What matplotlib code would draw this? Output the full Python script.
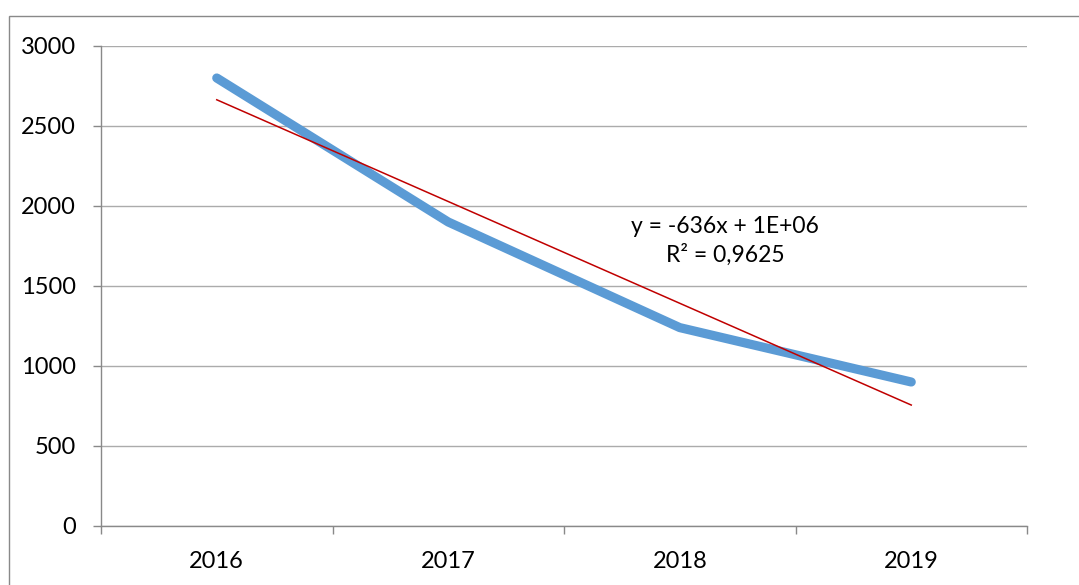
import numpy as np
import matplotlib
matplotlib.use("Agg")
import matplotlib.pyplot as plt
from matplotlib.patches import Rectangle

categories = ["2016", "2017", "2018", "2019"]
values = [2800, 1900, 1240, 900]
y_ticks = [0, 500, 1000, 1500, 2000, 2500, 3000]
trend_label = "y = -636x + 1E+06\nR² = 0,9625"

plt.rcParams['font.family'] = ['Lato', 'DejaVu Sans']

W, H = 1079, 585
fig = plt.figure(figsize=(W / 100, H / 100), dpi=100)
ax = fig.add_axes([101 / W, (H - 526) / H, (1027 - 101) / W, (526 - 46) / H])

# chart border (only left and top edges fall inside the image)
fig.patches.append(Rectangle((9 / W, -0.1), 2, (H - 16) / H + 0.1, transform=fig.transFigure,
                             fill=False, edgecolor='#898989', linewidth=1.0, clip_on=False))

x = np.arange(len(categories))
ax.plot(x, values, color='#5B9BD5', linewidth=6.6, solid_capstyle='round',
        solid_joinstyle='round', zorder=3)

# linear trendline (Excel-style, x = 1..n)
coef = np.polyfit(x + 1, values, 1)
tx = np.array([x[0], x[-1]])
ax.plot(tx, np.polyval(coef, tx + 1), color='#C00000', linewidth=1.1, zorder=4)

ax.text(2.195, 1940, trend_label, ha='center', va='top', fontsize=16.5,
        linespacing=1.4, color='black')

ax.set_xlim(-0.5, len(categories) - 0.5)
ax.set_ylim(0, 3000)
ax.set_yticks(y_ticks)
ax.set_yticklabels([str(v) for v in y_ticks], fontsize=17)
ax.set_xticks(x)
ax.set_xticklabels(categories, fontsize=17)
ax.set_xticks(np.arange(-0.5, len(categories), 1), minor=True)
ax.tick_params(axis='x', which='major', length=0, pad=18)
ax.tick_params(axis='x', which='minor', length=6, width=1, color='#898989', direction='out')
ax.tick_params(axis='y', length=6, width=1, color='#898989', direction='out', pad=12)

ax.yaxis.grid(True, color='#ABABAB', linewidth=1.0)
ax.set_axisbelow(True)
for s in ['top', 'right']:
    ax.spines[s].set_visible(False)
for s in ['left', 'bottom']:
    ax.spines[s].set_color('#898989')
    ax.spines[s].set_linewidth(1.0)

fig.savefig('out.png', dpi=100)
